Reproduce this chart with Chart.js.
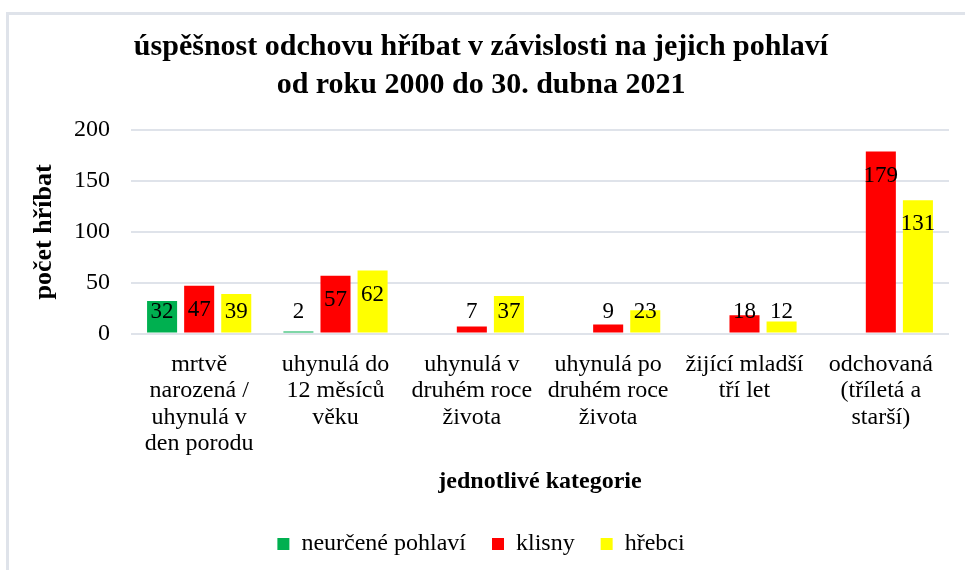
<!DOCTYPE html>
<html>
<head>
<meta charset="utf-8">
<script src="https://cdn.jsdelivr.net/npm/chart.js@4.4.1/dist/chart.umd.min.js"></script>
<style>
    html, body { margin: 0; padding: 0; background: #fff; }
    #wrap { position: relative; width: 965px; height: 570px; }
    #frame {
        position: absolute; left: 6px; top: 12px; right: -10px; bottom: -10px;
        border-left: 3px solid #dfe3ea; border-top: 3px solid #dfe3ea;
    }
    canvas { position: absolute; left: 0; top: 0; }
</style>
</head>
<body>
<div id="wrap">
    <div id="frame"></div>
    <canvas id="chart" width="965" height="570"></canvas>
</div>
<script>
// kategorie a hodnoty
const categories = [
    ['mrtvě', 'narozená /', 'uhynulá v', 'den porodu'],
    ['uhynulá do', '12 měsíců', 'věku'],
    ['uhynulá v', 'druhém roce', 'života'],
    ['uhynulá po', 'druhém roce', 'života'],
    ['žijící mladší', 'tří let'],
    ['odchovaná', '(tříletá a', 'starší)']
];
const neurcene = [32, 2, null, null, null, null];
const klisny = [47, 57, 7, 9, 18, 179];
const hrebci = [39, 62, 37, 23, 12, 131];
const yTicks = [0, 50, 100, 150, 200];

const serif = '"Liberation Serif", "Times New Roman", serif';

// popisky hodnot (uvnitř konce sloupce, u malých sloupců nad nulou)
const valueLabels = {
    id: 'valueLabels',
    afterDatasetsDraw(chart) {
        const ctx = chart.ctx;
        const base = chart.scales.y.getPixelForValue(0);
        ctx.save();
        ctx.font = '23px ' + serif;
        ctx.fillStyle = '#000';
        ctx.textAlign = 'center';
        ctx.textBaseline = 'middle';
        chart.data.datasets.forEach((ds, i) => {
            const meta = chart.getDatasetMeta(i);
            meta.data.forEach((bar, j) => {
                const v = ds.data[j];
                if (v === null || v === undefined) return;
                const y = Math.min(bar.y + 24, base - 22);
                ctx.fillText(String(v), bar.x, y);
            });
        });
        ctx.restore();
    }
};

new Chart(document.getElementById('chart'), {
    type: 'bar',
    data: {
        labels: categories,
        datasets: [
            { label: 'neurčené pohlaví', data: neurcene, backgroundColor: '#00b050', borderWidth: 0 },
            { label: 'klisny', data: klisny, backgroundColor: '#ff0000', borderWidth: 0 },
            { label: 'hřebci', data: hrebci, backgroundColor: '#ffff00', borderWidth: 0 }
        ]
    },
    options: {
        responsive: false,
        animation: false,
        layout: { padding: { left: 13, right: 16, top: 14, bottom: 4 } },
        datasets: { bar: { categoryPercentage: 0.816, barPercentage: 0.81 } },
        plugins: {
            title: {
                display: true,
                text: ['úspěšnost odchovu hříbat v závislosti na jejich pohlaví', 'od roku 2000 do 30. dubna 2021'],
                color: '#000',
                font: { family: serif, size: 30, weight: 'bold', lineHeight: 1.27 },
                padding: { top: 14, bottom: 26 }
            },
            legend: {
                position: 'bottom',
                labels: {
                    color: '#000',
                    font: { family: serif, size: 24 },
                    boxWidth: 12,
                    boxHeight: 12,
                    padding: 26
                }
            },
            tooltip: { enabled: false }
        },
        scales: {
            x: {
                grid: { display: false },
                border: { display: false },
                ticks: {
                    color: '#000',
                    font: { family: serif, size: 24, lineHeight: 1.1 },
                    maxRotation: 0,
                    autoSkip: false,
                    padding: 10
                },
                title: {
                    display: true,
                    text: 'jednotlivé kategorie',
                    color: '#000',
                    font: { family: serif, size: 24, weight: 'bold' },
                    padding: { top: 0, bottom: 10 }
                }
            },
            y: {
                min: 0,
                max: 200,
                afterBuildTicks(scale) {
                    scale.ticks = yTicks.map(v => ({ value: v }));
                },
                afterFit(scale) {
                    scale.width = 118;
                },
                grid: { color: '#dfe3ea', lineWidth: 2, drawTicks: false },
                border: { display: false },
                ticks: {
                    color: '#000',
                    font: { family: serif, size: 24 },
                    padding: 21
                },
                title: {
                    display: true,
                    text: 'počet hříbat',
                    color: '#000',
                    font: { family: serif, size: 26, weight: 'bold' },
                    padding: { top: 16, bottom: 10 }
                }
            }
        }
    },
    plugins: [valueLabels]
});
</script>
</body>
</html>
